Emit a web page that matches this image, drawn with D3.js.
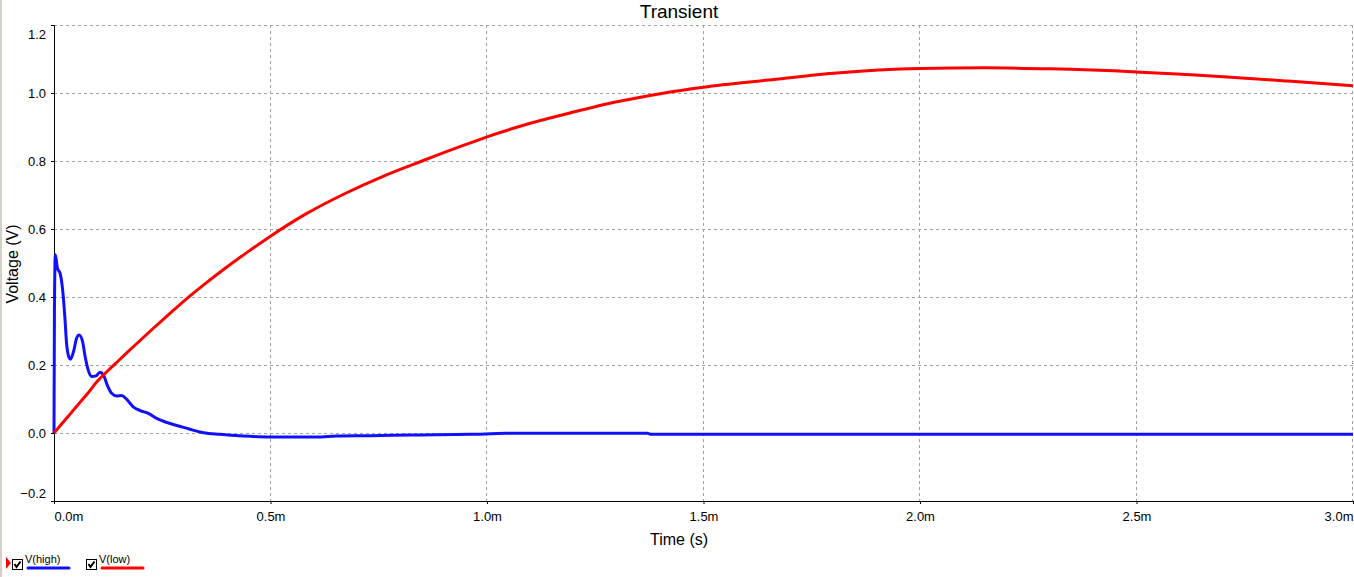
<!DOCTYPE html>
<html>
<head>
<meta charset="utf-8">
<script src="https://cdn.jsdelivr.net/npm/d3@7"></script>
<style>
    html, body { margin: 0; padding: 0; background: #fff; }
    svg { display: block; font-family: "Liberation Sans", Arial, sans-serif; }
</style>
</head>
<body>
<div id="chart"></div>
<script>
// time in ms, voltage in V
const highTime = [0, 0.001, 0.003, 0.008, 0.014, 0.02, 0.025, 0.029, 0.033, 0.038, 0.046, 0.052, 0.058, 0.066, 0.072, 0.079, 0.087, 0.097, 0.106, 0.114, 0.123, 0.133, 0.145, 0.156, 0.168, 0.183, 0.199, 0.218, 0.237, 0.26, 0.29, 0.314, 0.345, 0.383, 0.437, 0.5, 0.607, 0.653, 0.73, 0.822, 0.961, 1.045, 1.2, 1.37, 1.38, 3.0];
const highVolts = [0, 0.36, 0.524, 0.484, 0.47, 0.42, 0.342, 0.264, 0.229, 0.217, 0.244, 0.278, 0.288, 0.269, 0.224, 0.185, 0.166, 0.168, 0.179, 0.171, 0.141, 0.117, 0.109, 0.110, 0.099, 0.077, 0.066, 0.058, 0.043, 0.031, 0.020, 0.011, 0.001, -0.004, -0.009, -0.012, -0.012, -0.009, -0.008, -0.006, -0.004, -0.001, -0.001, -0.001, -0.004, -0.004];

const lowTime = [0, 0.02, 0.04, 0.06, 0.08, 0.1, 0.12, 0.15, 0.18, 0.22, 0.26, 0.3, 0.35, 0.4, 0.45, 0.5, 0.58, 0.67, 0.76, 0.85, 0.95, 1.0, 1.1, 1.2, 1.3, 1.4, 1.5, 1.65, 1.8, 2.0, 2.15, 2.3, 2.5, 2.7, 2.85, 3.0];
const lowVolts = [0, 0.03, 0.06, 0.09, 0.12, 0.152, 0.178, 0.214, 0.25, 0.297, 0.343, 0.388, 0.440, 0.489, 0.535, 0.579, 0.643, 0.703, 0.755, 0.800, 0.848, 0.871, 0.911, 0.944, 0.974, 0.998, 1.017, 1.038, 1.058, 1.072, 1.074, 1.071, 1.062, 1.048, 1.035, 1.021];

const xTicks = [0, 0.5, 1.0, 1.5, 2.0, 2.5, 3.0];
const yTicks = [-0.2, 0.0, 0.2, 0.4, 0.6, 0.8, 1.0, 1.2];

const seriesNames = ["V(high)", "V(low)"];
const seriesColors = ["#1010ff", "#ff0000"];

const width = 1354;
const height = 577;

const svg = d3.select("#chart")
    .append("svg")
    .attr("width", width)
    .attr("height", height);

svg.append("rect")
    .attr("width", width)
    .attr("height", height)
    .attr("fill", "#fff");

// window edge on the left
svg.append("rect")
    .attr("x", 0).attr("y", 0)
    .attr("width", 2).attr("height", height)
    .attr("fill", "#d4d0c8");

const xScale = d3.scaleLinear().domain([0, 3]).range([54, 1353]);
const yScale = d3.scaleLinear().domain([-0.2, 1.2]).range([501, 25]);

// grid
const grid = svg.append("g")
    .attr("stroke", "#a0a0a0")
    .attr("stroke-dasharray", "3,3");

grid.selectAll(".hgrid")
    .data(yTicks.filter(d => d > -0.2))
    .join("line")
    .attr("x1", xScale(0))
    .attr("x2", xScale(3) + 1)
    .attr("y1", d => Math.round(yScale(d)) + 0.5)
    .attr("y2", d => Math.round(yScale(d)) + 0.5);

grid.selectAll(".vgrid")
    .data(xTicks.filter(d => d > 0))
    .join("line")
    .attr("x1", d => Math.round(xScale(d)) - 0.5)
    .attr("x2", d => Math.round(xScale(d)) - 0.5)
    .attr("y1", yScale(1.2))
    .attr("y2", yScale(-0.2));

// axes
const xAxis = d3.axisBottom(xScale)
    .tickValues(xTicks)
    .tickSize(3)
    .tickPadding(8)
    .tickFormat(d => d3.format(".1f")(d) + "m");

const yAxis = d3.axisLeft(yScale)
    .tickValues(yTicks)
    .tickSize(3)
    .tickPadding(5)
    .tickFormat(d3.format(".1f"));

const gx = svg.append("g")
    .attr("transform", `translate(0, ${yScale(-0.2)})`)
    .call(xAxis);

const gy = svg.append("g")
    .attr("transform", `translate(${xScale(0)}, 0)`)
    .call(yAxis);

[gx, gy].forEach(g => {
    g.select(".domain").attr("stroke", "#000");
    g.selectAll(".tick line").attr("stroke", "#000");
    g.selectAll(".tick text")
        .attr("fill", "#000")
        .style("font-family", "'Liberation Sans', Arial, sans-serif")
        .style("font-size", "13px");
});

// end labels are pushed inside the plot
gx.selectAll(".tick text")
    .attr("text-anchor", (d, i) => i === 0 ? "start" : (i === xTicks.length - 1 ? "end" : "middle"));
gy.selectAll(".tick text")
    .attr("dy", d => d === 1.2 ? "1.05em" : (d === -0.2 ? "-0.3em" : "0.32em"));

// curves
const line = d3.line()
    .x(d => xScale(d[0]))
    .y(d => yScale(d[1]))
    .curve(d3.curveMonotoneX);

const highData = highTime.map((t, i) => [t, highVolts[i]]);
const lowData = lowTime.map((t, i) => [t, lowVolts[i]]);

svg.append("path")
    .datum(highData)
    .attr("d", line)
    .attr("fill", "none")
    .attr("stroke", seriesColors[0])
    .attr("stroke-width", 3)
    .attr("stroke-linejoin", "round");

svg.append("path")
    .datum(lowData)
    .attr("d", line)
    .attr("fill", "none")
    .attr("stroke", seriesColors[1])
    .attr("stroke-width", 3)
    .attr("stroke-linejoin", "round");

// titles
svg.append("text")
    .attr("x", 679)
    .attr("y", 18)
    .attr("text-anchor", "middle")
    .style("font-size", "19px")
    .text("Transient");

svg.append("text")
    .attr("x", 679)
    .attr("y", 545)
    .attr("text-anchor", "middle")
    .style("font-size", "16px")
    .text("Time (s)");

svg.append("text")
    .attr("transform", "translate(18, 264) rotate(-90)")
    .attr("text-anchor", "middle")
    .style("font-size", "16px")
    .text("Voltage (V)");

// legend
svg.append("path")
    .attr("d", "M6,557 L11,563 L6,569 Z")
    .attr("fill", "#ff0000");

const legend = svg.append("g");
const legendX = [12, 86];

seriesNames.forEach((name, i) => {
    const g = legend.append("g")
        .attr("transform", `translate(${legendX[i]}, 559)`);
    g.append("rect")
        .attr("x", 0.5).attr("y", 0.5)
        .attr("width", 10).attr("height", 10)
        .attr("fill", "#fff")
        .attr("stroke", "#000");
    g.append("path")
        .attr("d", "M2.5,5 L4.5,8 L8.5,2.5")
        .attr("fill", "none")
        .attr("stroke", "#000")
        .attr("stroke-width", 2);
    g.append("text")
        .attr("x", 13)
        .attr("y", 4)
        .style("font-size", "11px")
        .text(name);
    g.append("line")
        .attr("x1", 16).attr("x2", 57)
        .attr("y1", 9).attr("y2", 9)
        .attr("stroke", seriesColors[i])
        .attr("stroke-width", 3)
        .attr("stroke-linecap", "round");
});
</script>
</body>
</html>
